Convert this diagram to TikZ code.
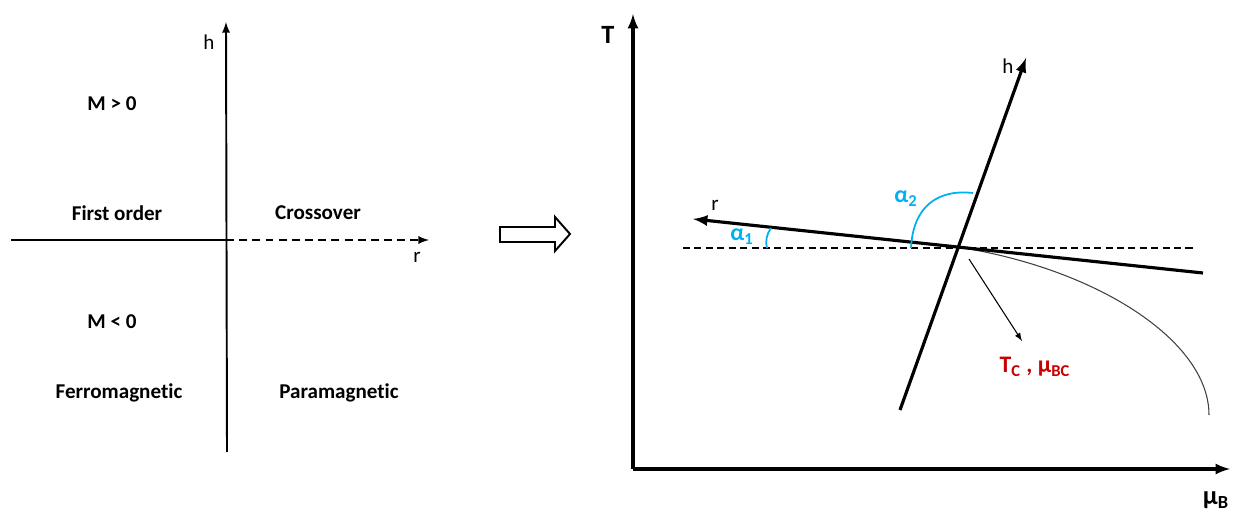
\documentclass[tikz,border=0pt]{standalone}
\usepackage{fontspec}
\setmainfont[Ligatures=CommonOff]{Carlito}
\definecolor{angcyan}{RGB}{0,176,240}
\definecolor{critred}{RGB}{200,0,0}
\tikzset{
  txt/.style={font=\fontsize{12}{14}\selectfont, inner sep=0pt},
  bold/.style={font=\bfseries\fontsize{12}{14}\selectfont, inner sep=0pt},
  boldbig/.style={font=\bfseries\fontsize{13.5}{16}\selectfont, inner sep=0pt},
  big/.style={font=\bfseries\fontsize{15}{17}\selectfont, inner sep=0pt},
  axis/.style={line width=1.1pt},
  thickaxis/.style={line width=1.8pt},
  refline/.style={line width=0.6pt, dash pattern=on 4pt off 2.5pt}
}
\begin{document}
\begin{tikzpicture}[x=0.02cm, y=-0.02cm]
  \useasboundingbox (0,0) rectangle (1238,513);
  % left panel
  \coordinate (o) at (226,240);
  \coordinate (hbot) at (227,452);
  \coordinate (htop) at (226,22);
  \coordinate (rleft) at (11,240);
  \coordinate (rright) at (429,240);
  \draw[axis, -latex] (hbot) -- (htop);
  \draw[axis] (rleft) -- (o);
  \draw[axis, dash pattern=on 4.5pt off 3pt, -latex] (o) -- (rright);
  \node[txt] (hl) at (209,42) {h};
  \node[txt] (rl) at (417,257) {r};
  \node[bold] (mpos) at (112,104) {M > 0};
  \node[bold] (first) at (117,213) {First order};
  \node[bold] (cross) at (318,213) {Crossover};
  \node[bold] (mneg) at (112,322) {M < 0};
  \node[bold] (ferro) at (119,393) {Ferromagnetic};
  \node[bold] (para) at (339,393) {Paramagnetic};
  % hollow arrow
  \draw[line width=1.1pt, line join=miter] (500,227) -- (555,227) -- (555,217) -- (570,234)
    -- (555,251) -- (555,242) -- (500,242) -- cycle;
  % right panel
  \coordinate (p) at (633,469);
  \coordinate (ttop) at (633,14);
  \coordinate (mend) at (1230,469);
  \draw[thickaxis, -latex] (p) -- (ttop);
  \draw[thickaxis, -latex] (p) -- (mend);
  \node[big] (tl) at (608,35) {T};
  \node[big] (ml) at (1216,500) {μ\textsubscript{B}};
  \coordinate (c) at (957,247);
  \coordinate (dl) at (683,248);
  \coordinate (dr) at (1193,248);
  \coordinate (rtip) at (693,219);
  \coordinate (rend) at (1203,273);
  \coordinate (hb) at (900,410);
  \coordinate (ht) at (1026,58);
  \draw[refline] (dl) -- (dr);
  \draw[line width=0.6pt, black!75] (c) .. controls (1095,268) and (1209,340) .. (1209,415);
  \draw[thickaxis, -latex] (rend) -- (rtip);
  \draw[thickaxis, -latex] (hb) -- (ht);
  \node[txt] (rr) at (715,205) {r};
  \node[txt] (hr) at (1008,66) {h};
  % angles
  \draw[angcyan, line width=1pt] (767,248) .. controls (765,240) and (767,234) .. (771,228);
  \draw[angcyan, line width=1pt] (911,248) .. controls (913,207) and (937,189) .. (973,193);
  \node[boldbig, text=angcyan] (a1) at (742,237) {α\textsubscript{1}};
  \node[boldbig, text=angcyan] (a2) at (906,199) {α\textsubscript{2}};
  % critical point
  \coordinate (cs) at (969,259);
  \coordinate (ce) at (1022,341);
  \draw[line width=0.6pt, -latex] (cs) -- (ce);
  \node[boldbig, text=critred] (crit) at (1035,367) {T\textsubscript{C} , μ\textsubscript{BC}};
\end{tikzpicture}
\end{document}
